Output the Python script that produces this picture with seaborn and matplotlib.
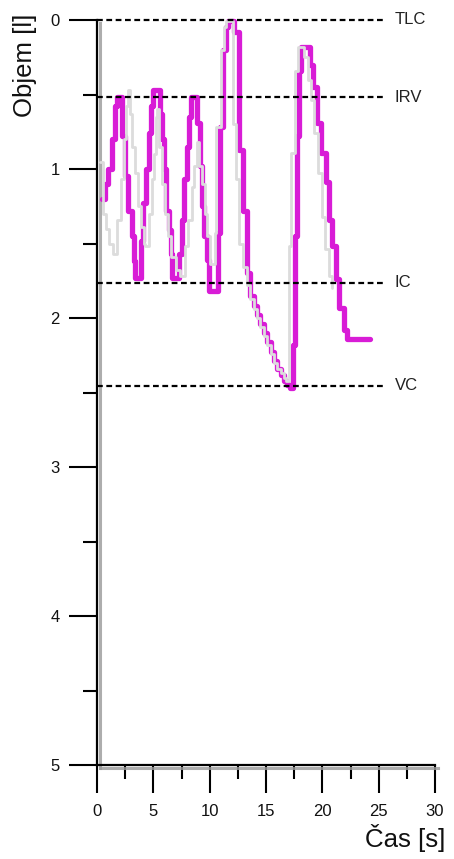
import numpy as np
import pandas as pd
import seaborn as sns
import matplotlib
matplotlib.use("Agg")
import matplotlib.pyplot as plt
import matplotlib.patheffects as pe

# ---- data ----
magenta_t = [0.4, 0.7, 1.0, 1.3, 1.6, 1.8, 2.2, 2.5, 2.75, 3.1, 3.3, 3.4, 3.9, 4.1, 4.35, 4.6, 4.8,
             5.0, 5.6, 5.75, 5.95, 6.15, 6.35, 6.55, 6.7, 7.3, 7.5, 7.7, 7.95, 8.15, 8.35, 8.9, 9.1,
             9.3, 9.5, 9.75, 9.95, 10.7, 10.9, 11.2, 11.45, 11.6, 12.2, 12.6, 13.0, 13.3, 13.6, 13.9,
             14.2, 14.5, 14.8, 15.1, 15.4, 15.7, 16.0, 16.3, 16.6, 16.9, 17.1, 17.4, 17.55, 17.75,
             17.95, 18.15, 18.9, 19.2, 19.5, 19.9, 20.3, 20.6, 20.9, 21.2, 21.5, 21.9, 22.2, 24.2]
magenta_v = [1.20, 1.10, 1.00, 0.80, 0.58, 0.52, 0.78, 1.05, 1.28, 1.45, 1.62, 1.73, 1.48, 1.23, 1.00,
             0.76, 0.58, 0.47, 0.63, 0.80, 1.00, 1.28, 1.41, 1.57, 1.73, 1.57, 1.34, 1.07, 0.85, 0.65,
             0.52, 0.69, 0.98, 1.25, 1.45, 1.61, 1.82, 1.43, 0.72, 0.20, 0.05, 0.01, 0.08, 0.87, 1.28,
             1.70, 1.85, 1.92, 1.98, 2.04, 2.10, 2.16, 2.23, 2.29, 2.34, 2.38, 2.42, 2.45, 2.47, 2.18,
             1.45, 0.78, 0.34, 0.18, 0.30, 0.45, 0.69, 0.89, 1.09, 1.34, 1.52, 1.74, 1.93, 2.08, 2.14,
             2.14]

gray_t = [0.3, 0.5, 0.8, 1.1, 1.4, 1.8, 2.1, 2.4, 2.6, 2.75, 2.95, 3.15, 3.35, 3.6, 3.9, 4.15, 4.3,
          4.6, 4.9, 5.1, 5.25, 5.35, 5.5, 5.75, 6.0, 6.3, 6.6, 7.0, 7.35, 7.8, 8.1, 8.4, 8.6, 8.85,
          9.05, 9.3, 9.55, 9.8, 10.0, 10.45, 10.6, 11.05, 11.3, 11.45, 12.1, 12.35, 12.6, 13.0, 13.3,
          13.6, 13.9, 14.2, 14.5, 14.8, 15.1, 15.4, 15.7, 16.0, 16.3, 16.6, 16.8, 17.0, 17.2, 17.55,
          17.8, 18.4, 18.7, 19.0, 19.3, 19.6, 19.95, 20.25, 20.55, 20.9]
gray_v = [0.95, 1.30, 1.40, 1.50, 1.57, 1.34, 1.07, 0.80, 0.58, 0.47, 0.63, 0.85, 1.03, 1.25, 1.39,
          1.50, 1.52, 1.30, 1.07, 0.90, 0.65, 0.60, 0.85, 1.10, 1.30, 1.45, 1.59, 1.68, 1.72, 1.52,
          1.34, 1.12, 0.98, 0.82, 0.98, 1.10, 1.30, 1.45, 1.64, 1.43, 0.72, 0.20, 0.05, 0.01, 0.70,
          1.07, 1.50, 1.66, 1.78, 1.87, 1.94, 2.00, 2.06, 2.12, 2.18, 2.24, 2.30, 2.34, 2.37, 2.40,
          2.42, 1.52, 0.89, 0.34, 0.18, 0.25, 0.40, 0.54, 0.76, 1.03, 1.32, 1.54, 1.72, 1.80]

ref_names = ["TLC", "IRV", "IC", "VC"]
ref_values = [0.0, 0.517, 1.765, 2.455]

x_ticks = [0, 5, 10, 15, 20, 25, 30]
y_ticks = [0, 1, 2, 3, 4, 5]

# ---- style ----
sns.set_theme(style="white")
plt.rcParams["font.family"] = ["Liberation Sans", "DejaVu Sans"]

fig = plt.figure(figsize=(4.54, 8.59), dpi=100)
ax = fig.add_axes([97 / 454, 94 / 859, 338 / 454, 745 / 859])

mag_df = pd.DataFrame({"t": magenta_t, "v": magenta_v})
gray_df = pd.DataFrame({"t": gray_t, "v": gray_v})

sns.lineplot(data=mag_df, x="t", y="v", ax=ax, estimator=None, sort=False,
             color="#d81cd6", linewidth=3.8, drawstyle="steps-post", zorder=3, clip_on=False)
sns.lineplot(data=gray_df, x="t", y="v", ax=ax, estimator=None, sort=False,
             color="#dcdcdc", linewidth=2.0, drawstyle="steps-post", zorder=4, clip_on=False)

for name, val in zip(ref_names, ref_values):
    ax.plot([0, 25.6], [val, val], color="black", linewidth=1.6,
            linestyle=(0, (2.6, 1.6)), zorder=5, clip_on=False)
    ax.text(26.4, val, name, fontsize=12, color="#222222", va="center", ha="left")

ax.set_xlim(0, 30)
ax.set_ylim(5, 0)
ax.set_xticks(x_ticks)
ax.set_yticks(y_ticks)
ax.set_xticklabels([str(v) for v in x_ticks])
ax.set_yticklabels([str(v) for v in y_ticks])
ax.set_xticks(np.arange(2.5, 30, 5), minor=True)
ax.set_yticks(np.arange(0.5, 5, 1), minor=True)

ax.tick_params(left=True, bottom=True, which="both")
ax.tick_params(axis="both", which="major", direction="out", length=20, width=1.5,
               color="black", labelsize=12, labelcolor="#111111")
ax.tick_params(axis="both", which="minor", direction="out", length=10, width=1.5, color="black")
ax.tick_params(axis="x", which="major", pad=8)
ax.tick_params(axis="y", which="major", pad=7)

ax.set_xlabel("")
ax.set_ylabel("")

for s in ["top", "right"]:
    ax.spines[s].set_visible(False)
for s in ["left", "bottom"]:
    ax.spines[s].set_color("black")
    ax.spines[s].set_linewidth(1.6)
    ax.spines[s].set_path_effects([
        pe.SimpleLineShadow(offset=(1.8, -1.8), shadow_color="#999999", alpha=0.8, linewidth=2.2),
        pe.Normal()])

ax.set_facecolor("white")
fig.patch.set_facecolor("white")

fig.text(25 / 454, 1 - 14 / 859, "Objem [l]", rotation=90, fontsize=18.5,
         va="top", ha="center", color="#111111")
fig.text(445 / 454, 21 / 859, "Čas [s]", fontsize=18.5, va="center", ha="right", color="#111111")

fig.savefig("out.png", dpi=100)
